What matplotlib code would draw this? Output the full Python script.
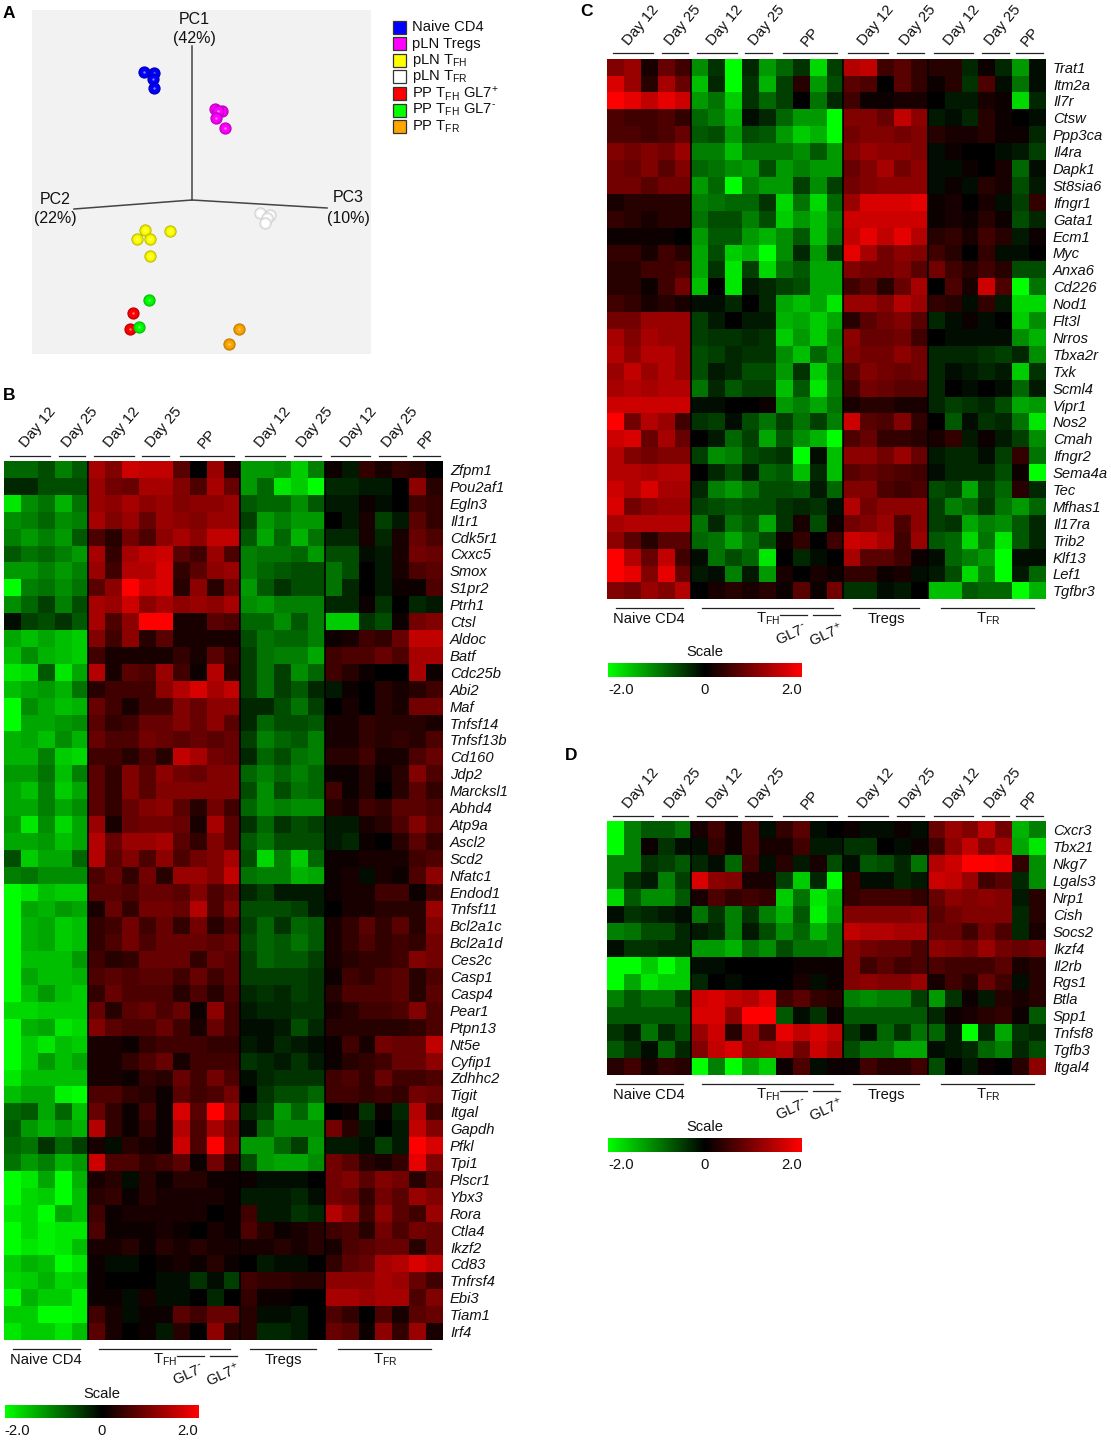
import numpy as np
import matplotlib
matplotlib.use("Agg")
import matplotlib.pyplot as plt
from matplotlib.colors import LinearSegmentedColormap
from matplotlib.patches import Rectangle

plt.rcParams['font.family'] = ['Liberation Sans', 'DejaVu Sans']
plt.rcParams['mathtext.fontset'] = 'custom'
plt.rcParams['mathtext.rm'] = 'Liberation Sans'
plt.rcParams['mathtext.default'] = 'regular'

W, H = 1111, 1440

# pca points, read in picture pixels
pca_groups = ['Naive CD4', 'pLN Tregs', 'pLN T$_{FH}$', 'pLN T$_{FR}$',
              'PP T$_{FH}$ GL7$^{+}$', r'PP T$_{FH}$ GL7$^{\text{-}}$', 'PP T$_{FR}$']
pca_colors = ['#0000ff', '#ff00ff', '#ffff00', '#ffffff', '#ff0000', '#00ff00', '#ffa500']
pca_x = [[144, 154, 153, 154], [215, 222, 218, 216, 225], [145, 137, 150, 170, 150],
         [260, 270, 267, 265], [133, 130], [149, 139], [239, 229]]
pca_y = [[72, 73, 79, 88], [109, 111, 111, 118, 128], [230, 239, 239, 231, 256],
         [213, 215, 218, 223], [313, 329], [300, 327], [329, 344]]

genes_b = ['Zfpm1', 'Pou2af1', 'Egln3', 'Il1r1', 'Cdk5r1', 'Cxxc5', 'Smox', 'S1pr2', 'Ptrh1', 'Ctsl',
           'Aldoc', 'Batf', 'Cdc25b', 'Abi2', 'Maf', 'Tnfsf14', 'Tnfsf13b', 'Cd160', 'Jdp2', 'Marcksl1',
           'Abhd4', 'Atp9a', 'Ascl2', 'Scd2', 'Nfatc1', 'Endod1', 'Tnfsf11', 'Bcl2a1c', 'Bcl2a1d', 'Ces2c',
           'Casp1', 'Casp4', 'Pear1', 'Ptpn13', 'Nt5e', 'Cyfip1', 'Zdhhc2', 'Tigit', 'Itgal', 'Gapdh',
           'Pfkl', 'Tpi1', 'Plscr1', 'Ybx3', 'Rora', 'Ctla4', 'Ikzf2', 'Cd83', 'Tnfrsf4', 'Ebi3',
           'Tiam1', 'Irf4']

genes_c = ['Trat1', 'Itm2a', 'Il7r', 'Ctsw', 'Ppp3ca', 'Il4ra', 'Dapk1', 'St8sia6', 'Ifngr1', 'Gata1',
           'Ecm1', 'Myc', 'Anxa6', 'Cd226', 'Nod1', 'Flt3l', 'Nrros', 'Tbxa2r', 'Txk', 'Scml4', 'Vipr1',
           'Nos2', 'Cmah', 'Ifngr2', 'Sema4a', 'Tec', 'Mfhas1', 'Il17ra', 'Trib2', 'Klf13', 'Lef1', 'Tgfbr3']

genes_d = ['Cxcr3', 'Tbx21', 'Nkg7', 'Lgals3', 'Nrp1', 'Cish', 'Socs2', 'Ikzf4', 'Il2rb', 'Rgs1',
           'Btla', 'Spp1', 'Tnfsf8', 'Tgfb3', 'Itgal4']

# heat values in tenths, columns are naive 5, tfh 9, tregs 5, tfr 7
values_b = [
    [-8,-8,-6,-10,-7, 13,10,16,15,15,7,0,12,2, -12,-12,-11,-16,-10, 1,-2,4,2,4,3,0],
    [-3,-3,-6,-6,-6, 12,9,8,13,13,10,6,13,8, -12,-8,-18,-16,-20, -3,-3,-2,-2,0,11,3],
    [-18,-11,-9,-14,-9, 12,11,13,11,12,10,11,11,12, -7,-8,-8,-11,-7, -2,-2,1,-1,0,5,4],
    [-11,-10,-8,-11,-10, 13,10,12,8,12,11,10,12,12, -5,-12,-10,-12,-12, 0,-2,2,-5,-2,7,4],
    [-10,-12,-10,-12,-7, 6,3,9,6,11,13,11,15,15, -7,-13,-8,-14,-9, -3,-3,2,-3,2,8,6],
    [-7,-9,-8,-10,-12, 13,4,13,15,16,7,5,12,6, -10,-9,-9,-8,-12, -6,-6,-1,-2,2,9,8],
    [-12,-12,-10,-12,-10, 12,5,14,14,17,4,7,11,12, -10,-8,-7,-6,-6, -9,-6,0,-2,2,6,7],
    [-20,-10,-9,-11,-9, 7,11,20,16,17,3,11,3,9, -12,-7,-4,-6,-6, -9,-3,0,-2,1,1,6],
    [-11,-8,-5,-10,-6, 13,12,16,11,13,11,12,11,13, -11,-12,-10,-10,-10, -3,-3,1,-4,0,-3,-2],
    [-1,-5,-6,-4,-7, 13,6,11,20,20,2,2,7,6, -8,-8,-11,-7,-10, -16,-16,-4,-6,1,9,10],
    [-13,-15,-13,-15,-16, 10,5,11,3,7,2,2,2,2, -6,-9,-8,-8,-10, 1,2,5,4,8,15,15],
    [-15,-11,-14,-15,-16, 5,2,2,2,2,4,2,7,4, -5,-9,-10,-10,-13, 5,6,6,8,6,13,13],
    [-18,-17,-7,-18,-13, 14,2,7,6,12,5,1,14,3, -5,-9,-5,-11,-8, 5,3,1,0,0,13,1],
    [-15,-13,-12,-14,-9, 3,5,5,5,11,14,17,13,15, -5,-9,-5,-7,-3, -2,1,0,3,2,3,5],
    [-20,-11,-13,-15,-14, 8,5,2,5,5,10,8,11,11, -3,-3,-6,-9,-5, 0,2,0,3,2,9,9],
    [-20,-13,-13,-12,-11, 7,4,5,8,8,10,8,11,7, -3,-8,-6,-6,-7, 2,2,4,3,3,3,2],
    [-14,-13,-15,-11,-14, 8,6,6,9,8,7,8,7,8, -5,-10,-8,-7,-10, 2,2,4,3,4,3,6],
    [-14,-14,-10,-16,-17, 5,5,3,6,3,15,13,9,8, -3,-8,-6,-9,-10, 3,3,5,2,2,6,8],
    [-12,-12,-9,-15,-10, 7,4,10,7,11,9,8,10,10, -8,-10,-8,-10,-8, 1,1,3,1,3,10,6],
    [-13,-15,-10,-16,-13, 7,4,10,7,10,10,10,10,10, -6,-11,-6,-9,-8, 5,1,3,0,3,7,4],
    [-13,-13,-10,-13,-11, 7,4,8,10,11,7,3,9,5, -8,-11,-10,-11,-11, 3,2,5,4,7,7,6],
    [-12,-18,-11,-17,-13, 12,2,8,9,9,8,2,13,7, -4,-8,-4,-6,-5, -2,-2,2,3,6,10,7],
    [-13,-13,-12,-15,-13, 14,8,12,12,13,7,4,10,7, -7,-9,-6,-6,-6, -2,-3,1,0,3,7,4],
    [-6,-16,-13,-13,-8, 14,7,10,6,11,6,9,10,13, -6,-17,-10,-16,-8, 1,1,2,2,2,5,6],
    [-10,-9,-11,-11,-11, 6,8,4,9,3,12,12,10,15, -9,-10,-10,-14,-13, 1,2,-1,2,1,6,11],
    [-20,-18,-15,-16,-16, 7,7,6,8,8,7,10,6,8, -3,-5,-2,-2,-2, 1,2,2,5,5,1,5],
    [-20,-13,-14,-12,-13, 2,8,4,9,9,8,14,6,10, -6,-6,-6,-5,-2, 0,2,2,3,3,3,12],
    [-20,-14,-13,-16,-15, 4,5,9,5,8,4,9,3,6, -5,-8,-4,-8,-7, 2,4,7,4,7,3,10],
    [-20,-14,-13,-16,-15, 4,6,9,6,8,8,8,7,8, -6,-8,-7,-9,-7, 2,4,6,4,5,4,9],
    [-20,-15,-15,-15,-12, 5,3,4,8,8,8,4,8,7, -5,-8,-7,-7,-5, 2,3,4,4,5,10,9],
    [-20,-13,-15,-15,-14, 6,7,6,7,7,5,8,5,7, -5,-5,-5,-5,-4, 1,5,4,6,7,3,6],
    [-20,-15,-12,-15,-16, 4,8,6,6,6,3,6,3,6, -3,-4,-3,-5,-4, 3,6,6,6,7,3,7],
    [-17,-17,-16,-16,-16, 8,3,7,8,6,8,1,11,5, -2,-3,-3,-4,-4, 2,3,5,5,6,10,6],
    [-20,-14,-13,-18,-17, 10,7,6,6,8,5,2,8,5, -1,-1,-2,-6,-3, 3,3,3,3,3,4,6],
    [-20,-16,-18,-15,-16, 2,2,1,4,5,5,5,4,4, -2,-1,-3,-2,-1, 1,5,2,9,8,8,15],
    [-20,-16,-12,-15,-13, 2,2,4,6,8,2,5,5,5, -4,-3,-2,-4,-2, 1,3,4,5,8,8,11],
    [-18,-15,-15,-15,-15, 2,2,1,4,3,8,5,9,6, -1,-3,-4,-4,-4, 5,6,4,8,5,5,6],
    [-15,-13,-13,-19,-20, 6,6,4,3,1,7,5,6,9, 0,-4,-6,-6,-8, 5,5,4,5,4,9,8],
    [-8,-7,-13,-8,-15, 8,4,1,5,1,17,7,20,12, -3,-5,-12,-8,-13, 0,1,-4,1,-3,14,5],
    [-7,-12,-14,-12,-14, 14,4,1,4,1,14,6,13,9, -1,-8,-11,-11,-11, 9,3,-2,0,-2,15,10],
    [-8,-9,-4,-8,-5, 2,-1,3,2,1,16,6,20,10, -12,-12,-8,-5,-12, -2,-2,-1,-5,-2,20,17],
    [-9,-12,-10,-14,-12, 16,6,6,4,5,7,1,9,3, -6,-12,-13,-13,-11, 9,7,3,2,4,18,10],
    [-20,-18,-13,-20,-14, 2,3,-1,3,1,3,3,1,1, 1,-1,-1,-1,0, 9,10,7,10,9,3,7],
    [-20,-17,-16,-20,-15, 3,4,1,3,2,2,2,2,1, -2,-2,-2,-3,-1, 9,8,4,9,7,12,10],
    [-18,-17,-20,-13,-15, 5,1,2,2,2,2,2,0,1, 5,-2,-2,-4,-3, 14,11,5,11,7,5,12],
    [-20,-17,-19,-18,-18, 6,1,1,1,2,1,0,2,1, 6,3,1,2,3, 5,6,3,9,6,9,8],
    [-20,-18,-19,-18,-15, 2,2,3,1,3,2,3,2,2, 2,2,3,2,3, 2,6,7,8,8,3,8],
    [-16,-14,-15,-20,-18, 1,-1,-1,0,1,2,1,3,1, 0,-2,-1,-1,0, 4,7,8,13,14,17,15],
    [-17,-16,-14,-17,-16, 1,0,0,0,-1,-1,-4,-1,-5, 5,4,4,3,3, 11,11,11,13,12,8,5],
    [-20,-14,-16,-16,-19, 1,1,-1,2,-1,-1,0,-3,0, 4,1,1,0,0, 13,13,12,13,13,6,10],
    [-16,-16,-20,-20,-19, 5,2,-1,1,1,7,5,8,8, 3,-1,-1,-2,0, 6,4,0,6,2,7,8],
    [-18,-16,-16,-18,-15, 7,2,0,1,-2,3,0,11,3, 3,-3,-3,-2,0, 8,7,1,11,4,12,2],
]

values_c = [
    [10,12,2,8,5, -11,-4,-20,-3,-12,-8,-4,-17,-5, 14,15,5,7,4, 3,3,-3,1,-3,-12,-1],
    [17,12,3,13,8, -15,-3,-20,-4,-14,-5,3,-12,-6, 7,6,0,7,4, 1,3,-4,6,-1,-9,-1],
    [20,18,15,18,16, -12,-9,-16,-4,-8,-5,0,-9,-3, 5,1,1,2,2, 0,-2,-2,2,1,-17,-3],
    [6,5,5,6,4, -8,-10,-14,-1,-3,-8,-12,-12,-20, 10,10,8,15,11, -2,-1,-3,3,1,0,-1],
    [6,6,5,6,8, -7,-6,-12,-6,-7,-12,-16,-14,-20, 9,10,10,9,10, 3,2,2,3,1,1,-3],
    [10,9,10,9,12, -10,-10,-15,-9,-9,-9,-11,-7,-12, 10,12,11,11,10, -1,1,0,0,-1,-2,-5],
    [9,8,10,7,10, -8,-9,-11,-12,-6,-12,-10,-12,-12, 8,10,13,9,11, -1,-1,1,0,2,-8,-1],
    [9,9,7,9,9, -12,-8,-20,-10,-12,-12,-5,-11,-5, 9,10,11,11,11, -1,1,-1,3,2,-6,-2],
    [2,3,3,3,3, -10,-9,-8,-8,-4,-17,-9,-17,-8, 12,17,17,17,18, 1,2,0,2,-1,-5,4],
    [4,3,2,3,3, -9,-6,-6,-10,-6,-16,-12,-15,-10, 16,16,16,16,16, 1,2,1,3,1,-6,-3],
    [1,1,1,1,0, -12,-7,-7,-12,-14,-11,-7,-15,-9, 15,18,15,18,14, 3,4,2,5,3,-2,1],
    [4,4,2,5,3, -13,-6,-16,-14,-20,-11,-3,-12,-4, 18,13,9,11,10, 5,3,0,4,-1,-1,0],
    [3,3,5,5,6, -13,-4,-18,-5,-17,-9,-7,-13,-13, 10,9,9,10,7, 9,5,3,5,3,-6,-6],
    [3,3,1,5,9, -15,0,-18,-2,-3,-5,-6,-13,-13, 5,7,3,8,13, 0,6,2,16,6,-20,-9],
    [5,4,2,3,2, -1,-1,-3,0,-3,-13,-15,-13,-18, 12,12,10,14,12, 4,3,-1,4,-2,-17,-17],
    [9,9,12,12,12, -5,-2,0,-2,-2,-14,-13,-16,-13, 3,7,9,10,7, -3,-1,1,-1,0,-16,-11],
    [13,10,13,12,12, -5,-4,-4,-3,-4,-16,-12,-16,-11, 11,8,8,9,5, 0,-1,-1,-1,-1,-11,-14],
    [14,11,14,14,12, -6,-5,-3,-4,-4,-11,-15,-8,-12, 10,9,9,11,9, -3,-3,-3,-4,-5,-3,-11],
    [12,15,12,14,12, -6,-2,-3,-6,-6,-12,-4,-16,-9, 7,10,9,8,9, -3,-1,-2,-3,-2,-16,-4],
    [13,14,13,14,14, -9,-3,-7,-5,-5,-15,-7,-18,-10, 5,9,8,7,7, -3,0,-1,0,-1,-8,-2],
    [16,16,16,16,16, -1,-1,0,0,1,-12,-10,-13,-9, 2,3,3,2,2, -3,-5,-4,-3,-6,-13,-12],
    [20,9,14,12,5, -4,-5,-1,-6,-9,-5,-9,-5,-10, 16,7,6,10,4, 0,-7,-1,-4,-3,-9,-18],
    [16,17,8,13,8, 0,-2,-8,-5,-13,-7,-11,-14,-20, 6,8,4,4,3, 2,4,-2,1,-2,-5,-11],
    [14,10,9,10,10, -5,-11,-10,-6,-5,-4,-20,-1,-15, 11,11,9,12,8, -2,-3,-3,-1,-5,4,-9],
    [14,14,13,14,14, 0,-3,-6,-2,-8,-7,-15,-3,-15, 7,8,7,6,5, -1,-3,-3,-3,-6,1,-20],
    [16,14,17,13,13, -3,-10,-12,-9,-6,-6,-7,-2,-8, 10,10,6,5,6, -6,-5,-13,-5,-8,3,-3],
    [17,9,11,12,12, -5,-6,-7,-6,-6,-4,-3,-4,-1, 14,9,11,11,11, -5,-10,-8,-4,-9,-12,-8],
    [13,14,14,14,14, -9,-3,-9,-7,-13,-4,2,-6,1, 9,10,12,6,11, -5,-4,-13,-10,-11,-7,-3],
    [11,7,3,7,7, -8,-9,-13,-9,-6,1,4,0,5, 16,15,13,5,12, -7,-8,-17,-9,-18,-7,-3],
    [20,14,8,15,5, -1,-9,-6,-8,-18,0,-3,-1,0, 13,7,7,5,1, -1,-8,-10,-12,-20,-1,-1],
    [20,18,10,18,8, -2,-1,-10,-2,-12,2,0,2,1, 4,4,1,2,-1, -2,-6,-17,-10,-20,-2,-8],
    [10,9,12,10,14, 0,2,3,2,3,1,7,1,9, -4,-4,-1,-2,0, -15,-15,-7,-8,-8,-20,-14],
]

values_d = [
    [-20,-10,-7,-7,-9, 2,5,1,6,-1,4,7,-1,0, 1,-1,-1,1,-1, 8,12,10,15,9,-14,-10],
    [-20,-10,1,-4,-1, -1,4,1,6,2,2,5,-2,-2, -4,-4,0,-1,1, 5,11,15,10,13,-13,-18],
    [-10,-10,-4,-5,-7, -3,-1,-8,5,-1,3,-2,2,-6, -1,-7,-6,-3,-9, 14,16,20,20,19,4,-11],
    [-10,-4,-2,-10,-5, 17,11,10,2,2,-5,-16,-3,-20, 4,-1,-1,-3,-2, 16,15,12,5,7,-3,-11],
    [-17,-7,-11,-11,-7, 2,6,4,5,4,-16,-9,-18,-14, 4,5,5,5,4, 8,11,10,11,10,-2,3],
    [-1,-4,-3,-2,-1, -9,-4,-10,-4,-10,-14,-7,-19,-13, 10,10,10,10,11, 7,9,10,10,10,-3,3],
    [-10,-9,-6,-6,-3, -2,-3,-10,-2,-6,-11,-8,-14,-10, 15,14,14,13,13, 8,8,5,9,6,-3,2],
    [-1,-4,-4,-3,-3, -12,-12,-14,-9,-11,-6,-9,-9,-10, 10,9,8,8,6, 11,10,9,12,9,8,9],
    [-20,-20,-16,-20,-16, -1,-1,0,0,0,0,1,1,1, 10,5,7,5,6, 6,5,5,5,7,2,3],
    [-20,-13,-18,-16,-16, -3,0,-1,0,0,0,2,-1,1, 10,11,10,10,12, 2,5,3,8,5,-1,3],
    [-10,-7,-9,-9,-5, 16,17,15,14,17,5,7,4,3, -10,-11,-10,-10,-5, -12,-4,1,-2,3,2,3],
    [-7,-7,-7,-7,-7, 17,17,11,20,20,-7,-1,-4,1, -7,-7,-7,-7,-7, -3,1,2,3,4,1,-7],
    [-4,-2,-9,-3,-6, 12,16,3,13,6,18,15,17,15, -4,-1,-8,-4,-9, -8,-2,-20,-3,-13,-4,-3],
    [-7,-4,-1,-8,-3, 10,15,17,12,13,14,9,16,13, -6,-9,-9,-13,-13, -1,-2,-3,-8,-10,-3,-6],
    [3,5,2,4,3, -20,-10,-20,-13,-16,1,6,-1,1, 1,5,3,3,5, -6,0,-2,1,0,3,11],
]

top_labels = ['Day 12', 'Day 25', 'Day 12', 'Day 25', 'PP', 'Day 12', 'Day 25', 'Day 12', 'Day 25', 'PP']
top_centers = [2.0, 4.52, 7.0, 9.5, 12.0, 15.9, 18.4, 21.0, 23.45, 25.08]
top_spans = [(0.37, 2.7), (3.25, 4.82), (5.35, 7.72), (8.2, 9.78), (10.44, 13.6),
             (14.27, 16.65), (17.17, 18.76), (19.35, 21.7), (22.2, 23.8), (24.25, 25.82)]
bottom_labels = ['Naive CD4', 'T$_{FH}$', 'Tregs', 'T$_{FR}$']
bottom_spans = [(0.53, 4.48), (5.65, 13.4), (14.57, 18.5), (19.8, 25.3)]
bottom_centers = [2.5, 9.53, 16.55, 22.55]
sub_labels = [r'GL7$^{\text{-}}$', 'GL7$^{+}$']
sub_spans = [(10.24, 11.82), (12.22, 13.8)]
sub_centers = [10.95, 12.97]

cmap = LinearSegmentedColormap.from_list('gbr', ['#00ff00', '#000000', '#ff0000'])
FS = 10.6


def px_axes(fig, x0, y0, x1, y1):
    # axes from picture pixels, y counted from the top
    return fig.add_axes([x0 / W, 1 - y1 / H, (x1 - x0) / W, (y1 - y0) / H])


def heatmap(fig, values, genes, x0, x1, y0, y1):
    ax = px_axes(fig, x0, y0, x1, y1)
    data = np.array(values) / 10
    im = ax.pcolormesh(data, cmap=cmap, vmin=-2, vmax=2)
    ax.set_xlim(0, 26)
    ax.set_ylim(len(genes), 0)
    ax.set_xticks([])
    ax.yaxis.tick_right()
    ax.set_yticks(np.arange(len(genes)) + 0.5, genes, style='italic', fontsize=FS, color='#111111')
    ax.tick_params(axis='y', length=0, pad=5)
    for s in ax.spines.values():
        s.set_visible(False)
    for c in [5, 14, 19]:
        ax.axvline(c, color='black', lw=1.2)

    # row height is about 16.9 px in every panel
    rh = (y1 - y0) / len(genes)
    n = len(genes)
    for lab, cx, span in zip(top_labels, top_centers, top_spans):
        ax.plot(span, [-5.5 / rh] * 2, color='#222222', lw=0.9, clip_on=False)
        dy = 22 if lab == 'PP' else 33.4
        ax.text(cx, -dy / rh, lab, rotation=50, ha='center', va='center', fontsize=10.8,
                color='#111111', rotation_mode='anchor')
    for lab, cx, span in zip(bottom_labels, bottom_centers, bottom_spans):
        ax.plot(span, [n + 8.5 / rh] * 2, color='#222222', lw=0.9, clip_on=False)
        ax.text(cx, n + 20 / rh, lab, ha='center', va='center', fontsize=FS, color='#111111')
    for lab, cx, span in zip(sub_labels, sub_centers, sub_spans):
        ax.plot(span, [n + 16 / rh] * 2, color='#222222', lw=0.9, clip_on=False)
        ax.text(cx, n + 35 / rh, lab, rotation=25, ha='center', va='center', fontsize=FS, color='#111111')
    return im


def scale_bar(fig, x0, x1, y0, y1):
    ax = px_axes(fig, x0, y0, x1, y1)
    ramp = np.linspace(-2, 2, 256).reshape(1, -1)
    ax.imshow(ramp, cmap=cmap, vmin=-2, vmax=2, aspect='auto', extent=[-2, 2, 1, 0])
    ax.set_xticks([])
    ax.set_yticks([])
    for s in ax.spines.values():
        s.set_visible(False)
    h = y1 - y0
    ax.text(0, -11 / h, 'Scale', ha='center', va='center', fontsize=FS, color='#111111')
    ax.text(-2, 1 + 13 / h, '-2.0', ha='left', va='center', fontsize=FS, color='#111111')
    ax.text(0, 1 + 13 / h, '0', ha='center', va='center', fontsize=FS, color='#111111')
    ax.text(2, 1 + 13 / h, '2.0', ha='right', va='center', fontsize=FS, color='#111111')


fig = plt.figure(figsize=(W / 100, H / 100), dpi=100, facecolor='white')

# panel A
ax = px_axes(fig, 32, 10, 371, 354)
ax.set_facecolor('#f2f2f2')
ax.set_xlim(32, 371)
ax.set_ylim(354, 10)
ax.set_xticks([])
ax.set_yticks([])
for s in ax.spines.values():
    s.set_visible(False)
ax.plot([192, 192], [46, 200], color='#444444', lw=1.1)
ax.plot([74, 192], [209, 200], color='#444444', lw=1.1)
ax.plot([192, 327], [200, 208], color='#444444', lw=1.1)
ax.text(194, 19, 'PC1', ha='center', va='center', fontsize=11.5, color='#111111')
ax.text(194, 38, '(42%)', ha='center', va='center', fontsize=11.5, color='#111111')
ax.text(55, 199, 'PC2', ha='center', va='center', fontsize=11.5, color='#111111')
ax.text(55, 219, '(22%)', ha='center', va='center', fontsize=11.5, color='#111111')
ax.text(348, 198, 'PC3', ha='center', va='center', fontsize=11.5, color='#111111')
ax.text(348, 218, '(10%)', ha='center', va='center', fontsize=11.5, color='#111111')
z = 3
for xs, ys, col in zip(pca_x, pca_y, pca_colors):
    rgb = np.array(matplotlib.colors.to_rgb(col))
    white = col == '#ffffff'
    for px, py in zip(xs, ys):
        # rough sphere shading, each point on its own so they overlap properly
        ax.scatter(px, py, s=78, color='#cccccc' if white else rgb * 0.72, linewidths=0, zorder=z)
        ax.scatter(px, py, s=58, color='#ececec' if white else rgb * 0.9, linewidths=0, zorder=z + 0.1)
        ax.scatter(px, py, s=32, color=rgb, linewidths=0, zorder=z + 0.2)
        ax.scatter(px, py, s=3, color=0.5 * rgb + 0.5, linewidths=0, zorder=z + 0.3)
        z += 1

# overlay in picture pixels for the legend and panel letters
over = fig.add_axes([0, 0, 1, 1], facecolor='none')
over.set_xlim(0, W)
over.set_ylim(H, 0)
over.axis('off')
for i, (lab, col) in enumerate(zip(pca_groups, pca_colors)):
    yc = 27 + i * 16.6
    over.add_patch(Rectangle((393, yc - 6.5), 12.5, 13, facecolor=col, edgecolor='#333333', lw=0.9))
    over.text(411.5, yc, lab, ha='left', va='center', fontsize=FS, color='#111111')
for lab, x, y in [('A', 3, 14), ('B', 3, 396), ('C', 580, 12), ('D', 565, 755)]:
    over.text(x, y, lab, ha='left', va='center', fontsize=12.5, fontweight='bold', color='black')

# panels B, C, D, cells are square so C and D end where the same width does
heatmap(fig, values_b, genes_b, 4, 443, 461, 1340)
heatmap(fig, values_c, genes_c, 607, 1046, 58.7, 599.3)
heatmap(fig, values_d, genes_d, 607, 1046, 821.3, 1075)
scale_bar(fig, 4.7, 198.3, 1405, 1418.3)
scale_bar(fig, 608, 802, 663.3, 676.7)
scale_bar(fig, 608, 802, 1138.3, 1152)

fig.savefig('out.png', dpi=100)
